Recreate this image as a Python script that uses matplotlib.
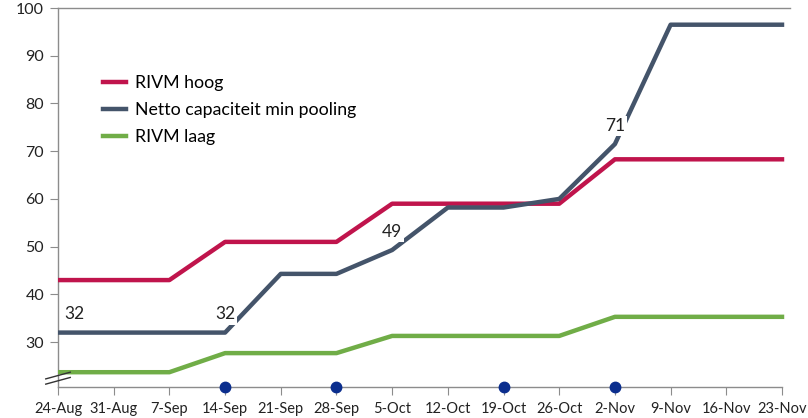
import matplotlib.pyplot as plt

plt.rcParams['font.family'] = ['Lato', 'DejaVu Sans']

# weken
weeks = ['24-Aug', '31-Aug', '7-Sep', '14-Sep', '21-Sep', '28-Sep', '5-Oct',
         '12-Oct', '19-Oct', '26-Oct', '2-Nov', '9-Nov', '16-Nov', '23-Nov']
rivm_hoog = [43, 43, 43, 51, 51, 51, 59, 59, 59, 59, 68.3, 68.3, 68.3, 68.3]
netto = [32, 32, 32, 32, 44.3, 44.3, 49.3, 58.2, 58.2, 60, 71.5, 96.5, 96.5, 96.5]
rivm_laag = [23.7, 23.7, 23.7, 27.7, 27.7, 27.7, 31.3, 31.3, 31.3, 31.3, 35.3, 35.3, 35.3, 35.3]
# labels bij de netto lijn
label_idx = [0, 3, 6, 10]
label_txt = ['32', '32', '49', '71']
# markeringen op de x-as
dot_weeks = ['14-Sep', '28-Sep', '19-Oct', '2-Nov']

x = list(range(len(weeks)))
gray = '#8c8c8c'

fig = plt.figure(figsize=(8.08, 4.18), dpi=100)
ax = fig.add_axes([58/808, 1-387/418, (790-58)/808, (387-8)/418])

ax.plot(x, rivm_hoog, color='#C0144C', lw=3.2, label='RIVM hoog', zorder=3)
ax.plot(x, netto, color='#44546A', lw=3.2, label='Netto capaciteit min pooling', zorder=3)
ax.plot(x, rivm_laag, color='#70AD47', lw=3.2, label='RIVM laag', zorder=3)

for i, t in zip(label_idx, label_txt):
    dx = 0.29 if i == 0 else 0
    dy = 3.8 if i != 6 else 3.8
    ax.text(x[i] + dx, netto[i] + dy, t, ha='center', va='center', fontsize=12.5,
            color='#222222', zorder=5,
            bbox=dict(facecolor='white', edgecolor='none', pad=1.5))

ax.plot([weeks.index(w) for w in dot_weeks], [20.6] * len(dot_weeks), 'o',
        color='#0B2E8E', ms=7.5, clip_on=False, zorder=6)

ax.set_xlim(0, 13 + 8/55.7)
ax.set_ylim(20.6, 100)
ax.set_xticks(x)
ax.set_xticklabels(weeks, fontsize=10.5)
ax.set_yticks(range(30, 101, 10))
ax.tick_params(axis='y', labelsize=11.5, length=6, color=gray, pad=4, labelcolor='#222222')
ax.tick_params(axis='x', length=6, color=gray, pad=5, labelcolor='#222222')

for s in ['left', 'bottom', 'top']:
    ax.spines[s].set_color(gray)
    ax.spines[s].set_linewidth(1)
ax.spines['right'].set_visible(False)
ax.spines['bottom'].set_bounds(0, 13)

# as-onderbreking
for yb in [23.0, 21.9]:
    ax.plot([-0.22, 0.22], [yb - 0.7, yb + 0.7], color='#333333', lw=1, clip_on=False, zorder=7)

leg = ax.legend(loc='upper left', bbox_to_anchor=(0.04, 0.865), frameon=False, fontsize=12.8,
                handlelength=1.3, labelspacing=0.62, handletextpad=0.5)

plt.savefig('out.png', dpi=100)
